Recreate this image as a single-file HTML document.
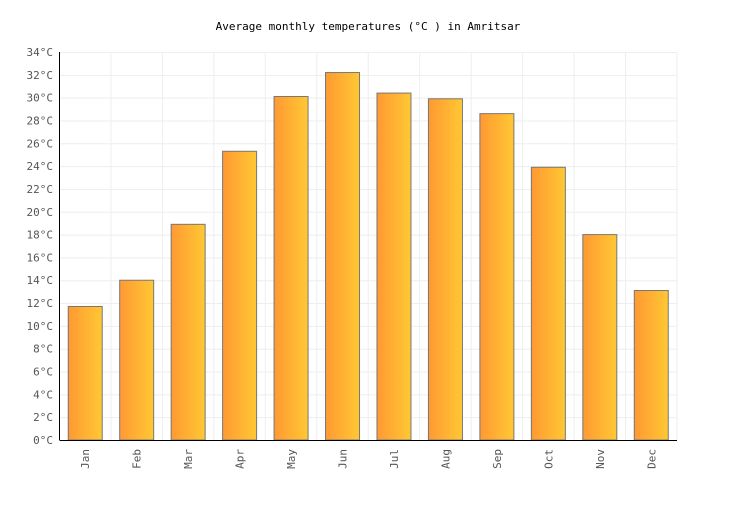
<!DOCTYPE html>
<html><head><meta charset="utf-8"><style>
body{margin:0;background:#fff;}
svg text{font-family:"DejaVu Sans Mono","Liberation Mono",monospace;}
</style></head><body>
<svg width="736" height="500" id="c">
<defs><linearGradient id="g" x1="0" x2="1" y1="0" y2="0"><stop offset="0" stop-color="#ff9933"/><stop offset="1" stop-color="#ffc833"/></linearGradient></defs>
<text x="368" y="30" text-anchor="middle" font-size="11" fill="#000">Average monthly temperatures (°C ) in Amritsar</text>
</svg>
<script>
const categories=["Jan","Feb","Mar","Apr","May","Jun","Jul","Aug","Sep","Oct","Nov","Dec"];
const temps=[11.7,14.0,18.9,25.3,30.1,32.2,30.4,29.9,28.6,23.9,18.0,13.1];
const yTicks=[0,2,4,6,8,10,12,14,16,18,20,22,24,26,28,30,32,34];
const svg=document.getElementById('c');const NS="http://www.w3.org/2000/svg";
const L=59.5,R=677,T=52,B=440,maxV=34;
const y=v=>B-(v/maxV)*(B-T);
const bw=(R-L)/categories.length;
const x=i=>L+bw*i;
function mk(t,a){const e=document.createElementNS(NS,t);for(const k in a)e.setAttribute(k,a[k]);svg.appendChild(e);return e;}
yTicks.forEach(v=>{
 const l=mk('line',{x1:L,x2:R,y1:y(v)+0.5,y2:y(v)+0.5,stroke:'#eeeeee'});
 
 
 const t=mk('text',{x:53,y:y(v)+4,'text-anchor':'end','font-size':'11',fill:'#555'});
 t.textContent=v+'°C';
 
 
});
for(let i=1;i<=categories.length;i++){
 const l=mk('line',{x1:x(i),x2:x(i),y1:T,y2:B,stroke:'#eeeeee'});
 
 
}
categories.forEach((c,i)=>{
 const cx=x(i)+bw/2;
 const r=mk('rect',{x:cx-17,y:y(temps[i]),width:34,height:B-y(temps[i]),fill:'url(#g)',stroke:'#777','stroke-width':1});
 
 
 const t=mk('text',{transform:`translate(${cx+4},449) rotate(-90)`,'text-anchor':'end','font-size':'11',fill:'#555'});
 t.textContent=c;
 
 
});
const ax=mk('line',{x1:L,x2:L,y1:T,y2:B,stroke:'#000'});


const bx=mk('line',{x1:L,x2:R,y1:B+0.5,y2:B+0.5,stroke:'#000'});


</script>
</body></html>
